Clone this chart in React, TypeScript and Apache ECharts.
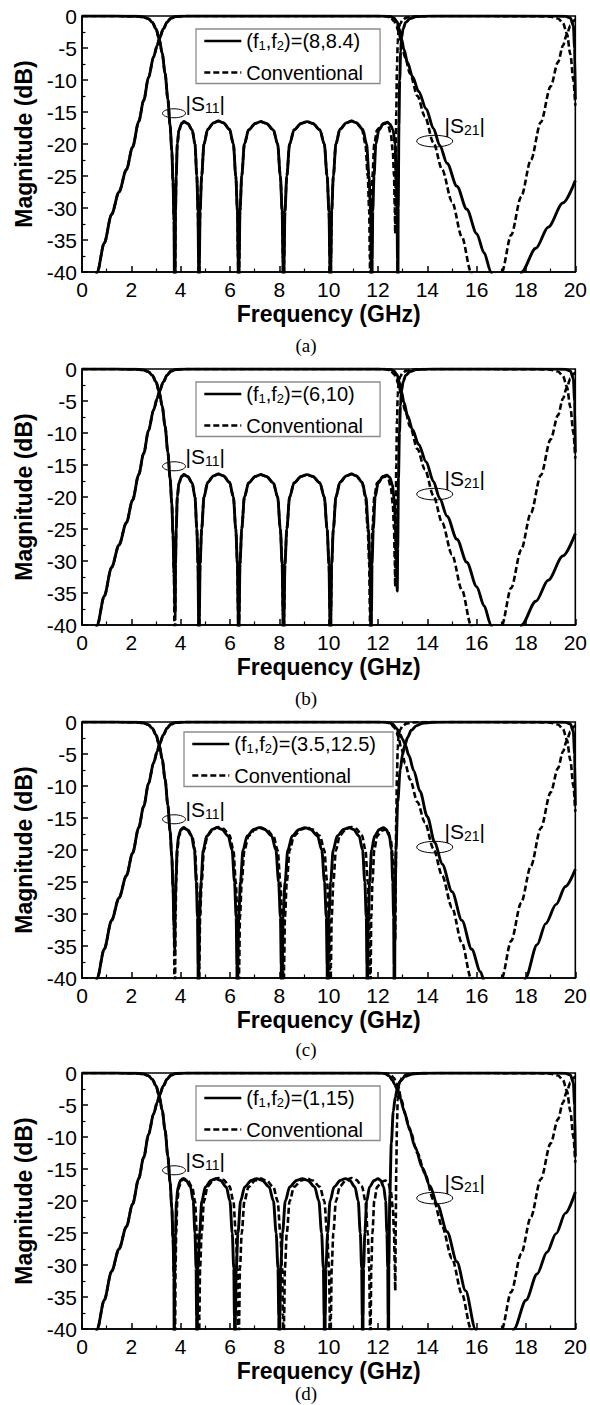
import React, { useEffect, useRef } from 'react';
import * as echarts from 'echarts';

type P = [number, number];

// ---------- axis / labels ----------
const X_MIN = 0, X_MAX = 20, X_STEP = 2;
const Y_MIN = -40, Y_MAX = 0, Y_STEP = 5;
const xTitle = 'Frequency (GHz)';
const yTitle = 'Magnitude (dB)';
const panelNames = ['(f1,f2)=(8,8.4)', '(f1,f2)=(6,10)', '(f1,f2)=(3.5,12.5)', '(f1,f2)=(1,15)'];
const legendValues = ['(8,8.4)', '(6,10)', '(3.5,12.5)', '(1,15)'];
const convName = 'Conventional';
const captions = ['(a)', '(b)', '(c)', '(d)'];

// annotation anchors (data coords)
const s11Ellipse: P = [3.73, -15.2];
const s11Label: P = [4.2, -13.7];
const s21Ellipse: P = [14.3, -19.55];
const s21Label: P = [14.7, -17.1];

// ---------- shared low band ----------
const s11Low: P[] = [[0,0],[1.5,-0.01],[2.2,-0.05],[2.5,-0.15],[2.7,-0.45],[2.85,-1],[3.0,-2],[3.13,-3.6],[3.25,-5.8],[3.37,-9],[3.48,-13],[3.57,-17],[3.64,-21],[3.69,-26],[3.73,-32]];
const s21Low: P[] = [[0.4,-45],[0.62,-40],[0.9,-35.5],[1.2,-31],[1.5,-27.5],[1.8,-24],[2.05,-20.5],[2.3,-16.5],[2.5,-13.2],[2.7,-9.6],[2.9,-6.4],[3.05,-4.6],[3.13,-3.6],[3.3,-2],[3.45,-0.95],[3.6,-0.35],[3.8,-0.08],[4.2,-0.01],[5,0],[8,0],[11,0],[12,-0.01]];
const convS11End: P[] = [[18.5,-0.02],[19.0,-0.1],[19.3,-0.4],[19.5,-1.1],[19.66,-2.8],[19.8,-6],[19.92,-10],[20,-14]];
const newS11End: P[] = [[19.3,-0.02],[19.6,-0.06],[19.8,-0.3],[19.92,-1.5],[19.97,-5],[20,-13]];

// ---------- conventional lobes (also shared by a, b) ----------
const lobes1to4: P[] = [
  [3.779,-38],[3.792,-30.5],[3.82,-25],[3.864,-20],[3.932,-17.8],[4.04,-16.8],[4.13,-16.5],[4.283,-16.8],[4.466,-17.8],[4.581,-20],[4.655,-25],[4.703,-30.5],[4.725,-38],[4.74,-60],
  [4.759,-38],[4.787,-30.5],[4.851,-25],[4.945,-20],[5.096,-17.7],[5.333,-16.7],[5.53,-16.4],[5.735,-16.7],[5.981,-17.7],[6.137,-20],[6.235,-25],[6.301,-30.5],[6.33,-38],[6.35,-60],
  [6.372,-38],[6.404,-30.5],[6.476,-25],[6.584,-20],[6.755,-17.8],[7.025,-16.8],[7.25,-16.5],[7.48,-16.8],[7.756,-17.8],[7.931,-20],[8.041,-25],[8.115,-30.5],[8.148,-38],[8.17,-60],
  [8.193,-38],[8.227,-30.5],[8.303,-25],[8.417,-20],[8.598,-17.8],[8.883,-16.8],[9.12,-16.5],[9.358,-16.8],[9.643,-17.8],[9.823,-20],[9.937,-25],[10.013,-30.5],[10.047,-38],[10.07,-60],
];
const lobe5Left: P[] = [[10.091,-38],[10.122,-30.5],[10.19,-25],[10.294,-20],[10.457,-17.7],[10.715,-16.7],[10.93,-16.4]];
const convLobe5Right: P[] = [[11.12,-16.7],[11.348,-17.7],[11.492,-20],[11.584,-25],[11.644,-30.5],[11.672,-38],[11.69,-60]];
const convLobe6: P[] = [[11.705,-38],[11.727,-30.5],[11.775,-25],[11.849,-20],[11.965,-17.8],[12.148,-17],[12.3,-16.8],[12.42,-17.2],[12.52,-18.5],[12.6,-21],[12.65,-25],[12.68,-30],[12.70,-34]];
const convRise: P[] = [[12.72,-24],[12.74,-15],[12.77,-8],[12.8,-4.2],[12.83,-2.4],[12.9,-1.2],[13.0,-0.6],[13.15,-0.25],[13.4,-0.08],[13.8,-0.02],[14.5,0]];
const convS21Upper: P[] = [[12.3,-0.03],[12.5,-0.2],[12.65,-0.8],[12.75,-1.6],[12.83,-2.4],[12.95,-4.2],[13.1,-6.5],[13.3,-9],[13.6,-12.5],[13.9,-15.7],[14.25,-19.8],[14.6,-24],[15.0,-29],[15.4,-34.5],[15.77,-40],[15.9,-43],[16.9,-43],[17.02,-40],[17.4,-34.2],[17.8,-28.3],[18.2,-22.5],[18.6,-16.6],[19.0,-11],[19.3,-7.2],[19.5,-4.6],[19.66,-2.8],[19.8,-1.5],[19.92,-0.8],[20,-0.5]];

// ---------- panel (a) ----------
const aLobe5Right: P[] = [[11.135,-16.7],[11.381,-17.7],[11.537,-20],[11.635,-25],[11.701,-30.5],[11.73,-38],[11.75,-60]];
const aLobe6: P[] = [[11.765,-38],[11.788,-30.5],[11.838,-25],[11.914,-20],[12.034,-17.8],[12.223,-16.8],[12.38,-16.6],[12.485,-16.9],[12.611,-17.8],[12.691,-20],[12.741,-25],[12.775,-30.5],[12.79,-38],[12.8,-60]];
const aRise: P[] = [[12.82,-30],[12.85,-17],[12.88,-10],[12.92,-5.5],[12.95,-3.5],[13.02,-2],[13.12,-1],[13.3,-0.4],[13.55,-0.1],[14,-0.02],[15,0]];
const abS21Upper: P[] = [[12.3,-0.02],[12.5,-0.08],[12.65,-0.3],[12.77,-0.9],[12.87,-2.1],[12.95,-3.5],[13.05,-5.2],[13.2,-7.3],[13.4,-9.5],[13.65,-11.8],[13.95,-14.5],[14.25,-17.6],[14.5,-20.2],[14.8,-23],[15.2,-26.6],[15.6,-30.2],[16.0,-34],[16.3,-37],[16.58,-40],[16.75,-43],[17.7,-43],[17.82,-40],[18.4,-36.3],[18.9,-33],[19.5,-29.2],[20,-25.7]];

// ---------- panel (b) ----------
const bLobe5Right: P[] = [[11.12,-16.7],[11.36,-17.7],[11.51,-20],[11.61,-25],[11.675,-30.5],[11.702,-38],[11.72,-60]];
const bLobe6: P[] = [[11.735,-38],[11.758,-30.5],[11.808,-25],[11.885,-20],[12.005,-17.8],[12.2,-16.8],[12.36,-16.6],[12.47,-16.9],[12.58,-18],[12.66,-20.5],[12.71,-24.5],[12.75,-29.5],[12.78,-34.7]];
const bRise: P[] = [[12.8,-28],[12.83,-17],[12.87,-10],[12.91,-5.8],[12.95,-3.5],[13.02,-2],[13.12,-1],[13.3,-0.4],[13.55,-0.1],[14,-0.02],[15,0]];

// ---------- panel (c) ----------
const cLobes: P[] = [
  [3.76,-35.6],[3.775,-30],[3.795,-26.5],[3.82,-23.5],[3.855,-20],[3.913,-17.8],[4.015,-16.8],[4.1,-16.5],[4.255,-16.8],[4.441,-17.8],[4.559,-20],[4.633,-25],[4.683,-30.5],[4.705,-38],[4.72,-60],
  [4.738,-38],[4.765,-30.5],[4.825,-25],[4.915,-20],[5.058,-17.8],[5.283,-16.8],[5.47,-16.5],[5.678,-16.8],[5.927,-17.8],[6.084,-20],[6.184,-25],[6.25,-30.5],[6.28,-38],[6.3,-60],
  [6.321,-38],[6.353,-30.5],[6.423,-25],[6.529,-20],[6.696,-17.8],[6.96,-16.8],[7.18,-16.5],[7.41,-16.8],[7.686,-17.8],[7.861,-20],[7.971,-25],[8.045,-30.5],[8.078,-38],[8.1,-60],
  [8.123,-38],[8.156,-30.5],[8.232,-25],[8.344,-20],[8.523,-17.8],[8.805,-16.8],[9.04,-16.5],[9.27,-16.8],[9.546,-17.8],[9.721,-20],[9.831,-25],[9.905,-30.5],[9.938,-38],[9.96,-60],
  [9.981,-38],[10.012,-30.5],[10.08,-25],[10.184,-20],[10.347,-17.8],[10.605,-16.8],[10.82,-16.5],[11.008,-16.8],[11.233,-17.8],[11.375,-20],[11.465,-25],[11.525,-30.5],[11.552,-38],[11.57,-60],
  [11.586,-38],[11.609,-30.5],[11.661,-25],[11.739,-20],[11.863,-17.8],[12.058,-16.8],[12.22,-16.5],[12.33,-16.8],[12.462,-17.8],[12.546,-20],[12.598,-25],[12.634,-30.5],[12.649,-38],[12.66,-60],
];
const cRise: P[] = [[12.69,-30],[12.73,-20],[12.8,-12.5],[12.9,-7.5],[13.0,-5],[13.1,-3.5],[13.2,-2.4],[13.35,-1.3],[13.55,-0.6],[13.8,-0.2],[14.2,-0.05],[15,0]];
const cS21Upper: P[] = [[12.3,-0.02],[12.45,-0.1],[12.6,-0.35],[12.75,-1],[12.9,-2],[13.0,-2.7],[13.1,-3.5],[13.25,-5.2],[13.45,-7.6],[13.7,-10.8],[14.0,-14.8],[14.3,-18.8],[14.6,-22.2],[15.0,-26.5],[15.4,-31],[15.8,-35.5],[16.15,-39],[16.35,-41],[16.5,-43],[17.8,-43],[17.98,-40],[18.45,-34.8],[18.8,-31.5],[19.22,-28.5],[19.6,-25.7],[20,-23]];

// ---------- panel (d) ----------
const dLobes: P[] = [
  [3.74,-60],
  [3.748,-38],[3.76,-30.5],[3.788,-25],[3.828,-20],[3.893,-17.8],[3.995,-16.8],[4.08,-16.5],[4.225,-16.8],[4.399,-17.8],[4.509,-20],[4.579,-25],[4.625,-30.5],[4.646,-38],[4.66,-60],
  [4.678,-38],[4.706,-30.5],[4.766,-25],[4.858,-20],[5.002,-17.8],[5.23,-16.8],[5.42,-16.5],[5.615,-16.8],[5.849,-17.8],[5.997,-20],[6.091,-25],[6.153,-30.5],[6.181,-38],[6.2,-60],
  [6.221,-38],[6.253,-30.5],[6.323,-25],[6.429,-20],[6.596,-17.8],[6.86,-16.8],[7.08,-16.5],[7.31,-16.8],[7.586,-17.8],[7.761,-20],[7.871,-25],[7.945,-30.5],[7.978,-38],[8.0,-60],
  [8.022,-38],[8.056,-30.5],[8.13,-25],[8.242,-20],[8.419,-17.8],[8.698,-16.8],[8.93,-16.5],[9.157,-16.8],[9.43,-17.8],[9.603,-20],[9.713,-25],[9.785,-30.5],[9.818,-38],[9.84,-60],
  [9.86,-38],[9.89,-30.5],[9.958,-25],[10.058,-20],[10.218,-17.8],[10.47,-16.8],[10.68,-16.5],[10.855,-16.8],[11.065,-17.8],[11.198,-20],[11.282,-25],[11.338,-30.5],[11.363,-38],[11.38,-60],
  [11.395,-38],[11.417,-30.5],[11.467,-25],[11.541,-20],[11.659,-17.8],[11.845,-16.8],[12.0,-16.5],[12.105,-16.8],[12.231,-17.8],[12.311,-20],[12.361,-25],[12.395,-30.5],[12.41,-38],[12.42,-60],
];
const dRise: P[] = [[12.44,-30],[12.48,-19],[12.54,-11],[12.62,-6],[12.7,-3.8],[12.78,-2.5],[12.9,-1.3],[13.1,-0.5],[13.4,-0.15],[13.8,-0.03],[14.5,0]];
const dS21Upper: P[] = [[12.1,-0.02],[12.3,-0.12],[12.45,-0.45],[12.58,-1.1],[12.68,-1.8],[12.78,-2.6],[12.9,-3.9],[13.05,-5.8],[13.25,-8.4],[13.5,-11.5],[13.8,-14.8],[14.1,-17.6],[14.4,-20.5],[14.8,-24.8],[15.2,-29.5],[15.55,-34],[15.95,-40],[16.1,-42.5],[17.35,-43],[17.51,-40],[18.0,-35.5],[18.45,-31.4],[18.85,-28],[19.22,-25.1],[19.6,-21.9],[20,-18.6]];

// ---------- assembled curves ----------
const convS11: P[] = [...s11Low, [3.77,-60], ...lobes1to4, ...lobe5Left, ...convLobe5Right, ...convLobe6, ...convRise, ...convS11End];
const convS21: P[] = [...s21Low, ...convS21Upper];
const newS11: P[][] = [
  [...s11Low, [3.77,-60], ...lobes1to4, ...lobe5Left, ...aLobe5Right, ...aLobe6, ...aRise, ...newS11End],
  [...s11Low, [3.775,-38.3], ...lobes1to4, ...lobe5Left, ...bLobe5Right, ...bLobe6, ...bRise, ...newS11End],
  [...s11Low, ...cLobes, ...cRise, ...newS11End],
  [...s11Low, ...dLobes, ...dRise, ...newS11End],
];
const newS21: P[][] = [
  [...s21Low, ...abS21Upper],
  [...s21Low, ...abS21Upper],
  [...s21Low, ...cS21Upper],
  [...s21Low, ...dS21Upper],
];

// ---------- layout ----------
const FONT = '"Liberation Sans", Arial, Helvetica, sans-serif';
const SERIF = '"Liberation Serif", "Times New Roman", serif';
const GRID_TOPS = [16, 369, 722, 1073];
const GRID_LEFT = 82, GRID_W = 495, GRID_H = 256;
const LEGEND_LEFT = [196, 196, 184, 196];
const LEGEND_TOP = [29, 382, 732, 1086];
const CAPTION_Y = [345, 698, 1049, 1393];
const CAPTION_X = 306;

export default function App() {
  const ref = useRef<HTMLDivElement>(null);
  useEffect(() => {
    if (!ref.current) return;
    const chart = echarts.init(ref.current, undefined, { renderer: 'svg' });
    const grid: any[] = [], xAxis: any[] = [], yAxis: any[] = [], legend: any[] = [], series: any[] = [];
    const axisCommon = {
      axisLine: { show: true, onZero: false, lineStyle: { color: '#000', width: 1.6 } },
      axisTick: { show: true, inside: true, length: 6, lineStyle: { color: '#000', width: 1.5 } },
      minorTick: { show: true, splitNumber: 2, length: 3.5, lineStyle: { color: '#000', width: 1.2 } },
      splitLine: { show: false },
      nameLocation: 'middle',
      nameTextStyle: { fontSize: 23, fontWeight: 'bold', fontFamily: FONT, color: '#000' },
    };
    for (let i = 0; i < 4; i++) {
      grid.push({ left: GRID_LEFT, top: GRID_TOPS[i], width: GRID_W, height: GRID_H, show: true, borderColor: '#000', borderWidth: 1.6, backgroundColor: 'transparent' });
      xAxis.push({
        ...axisCommon, gridIndex: i, type: 'value', min: X_MIN, max: X_MAX, interval: X_STEP,
        name: xTitle, nameGap: 30,
        axisLabel: { fontSize: 21, color: '#000', fontFamily: FONT, margin: 7 },
      });
      yAxis.push({
        ...axisCommon, gridIndex: i, type: 'value', min: Y_MIN, max: Y_MAX, interval: Y_STEP,
        name: yTitle, nameGap: 39,
        axisLabel: { fontSize: 21, color: '#000', fontFamily: FONT, margin: 5 },
      });
      const lv = legendValues[i];
      legend.push({
        orient: 'vertical', left: LEGEND_LEFT[i], top: LEGEND_TOP[i],
        padding: [2, 17, 1, 7], itemGap: 11, itemWidth: 37, itemHeight: 14,
        borderColor: '#8c8c8c', borderWidth: 1.3, selectedMode: false,
        itemStyle: { opacity: 0, color: '#000', borderWidth: 0 },
        lineStyle: { width: 2.6, color: '#000', opacity: 1 },
        textStyle: { fontSize: 20, fontFamily: FONT, color: '#000', rich: { s: { fontSize: 13, fontFamily: FONT, color: '#000', padding: [8, 0, 0, 0] } } },
        data: [panelNames[i], convName],
        formatter: (name: string) => (name === convName ? name : '(f{s|1},f{s|2})=' + lv),
      });
      const dashed = { color: '#000', width: 2.6, type: [6, 3] };
      const solid = { color: '#000', width: 2.9, type: 'solid' };
      const common = { type: 'line', xAxisIndex: i, yAxisIndex: i, showSymbol: false, symbol: 'none', smooth: 0.3, smoothMonotone: 'x', clip: true, silent: true, itemStyle: { color: '#000' } };
      series.push({ ...common, name: convName, data: convS11, lineStyle: dashed });
      series.push({ ...common, name: convName, data: convS21, lineStyle: dashed });
      series.push({ ...common, name: panelNames[i], data: newS11[i], lineStyle: solid });
      series.push({ ...common, name: panelNames[i], data: newS21[i], lineStyle: solid });
    }
    chart.setOption({ animation: false, backgroundColor: '#fff', grid, xAxis, yAxis, legend, series, tooltip: { show: false } });

    const graphic: any[] = [];
    const subRich = { s: { fontSize: 14, fontFamily: FONT, fill: '#000', padding: [9, 0, 0, 0] } };
    for (let i = 0; i < 4; i++) {
      const e1 = chart.convertToPixel({ gridIndex: i }, s11Ellipse) as number[];
      const t1 = chart.convertToPixel({ gridIndex: i }, s11Label) as number[];
      const e2 = chart.convertToPixel({ gridIndex: i }, s21Ellipse) as number[];
      const t2 = chart.convertToPixel({ gridIndex: i }, s21Label) as number[];
      graphic.push({ type: 'ellipse', silent: true, shape: { cx: e1[0], cy: e1[1], rx: 11.5, ry: 4.5 }, style: { fill: 'none', stroke: '#000', lineWidth: 1 } });
      graphic.push({ type: 'ellipse', silent: true, shape: { cx: e2[0], cy: e2[1], rx: 18, ry: 5.8 }, style: { fill: 'none', stroke: '#000', lineWidth: 1 } });
      graphic.push({ type: 'text', silent: true, x: t1[0], y: t1[1], style: { text: '|S{s|11}|', fontSize: 21, fontFamily: FONT, fill: '#000', align: 'left', verticalAlign: 'middle', rich: subRich } });
      graphic.push({ type: 'text', silent: true, x: t2[0], y: t2[1], style: { text: '|S{s|21}|', fontSize: 21, fontFamily: FONT, fill: '#000', align: 'left', verticalAlign: 'middle', rich: subRich } });
      graphic.push({ type: 'text', silent: true, x: CAPTION_X, y: CAPTION_Y[i], style: { text: captions[i], fontSize: 19, fontFamily: SERIF, fill: '#000', align: 'center', verticalAlign: 'middle' } });
    }
    chart.setOption({ graphic });
    return () => chart.dispose();
  }, []);
  return <div ref={ref} style={{ position: 'absolute', left: 0, top: 0, width: 590, height: 1405, background: '#fff' }} />;
}
